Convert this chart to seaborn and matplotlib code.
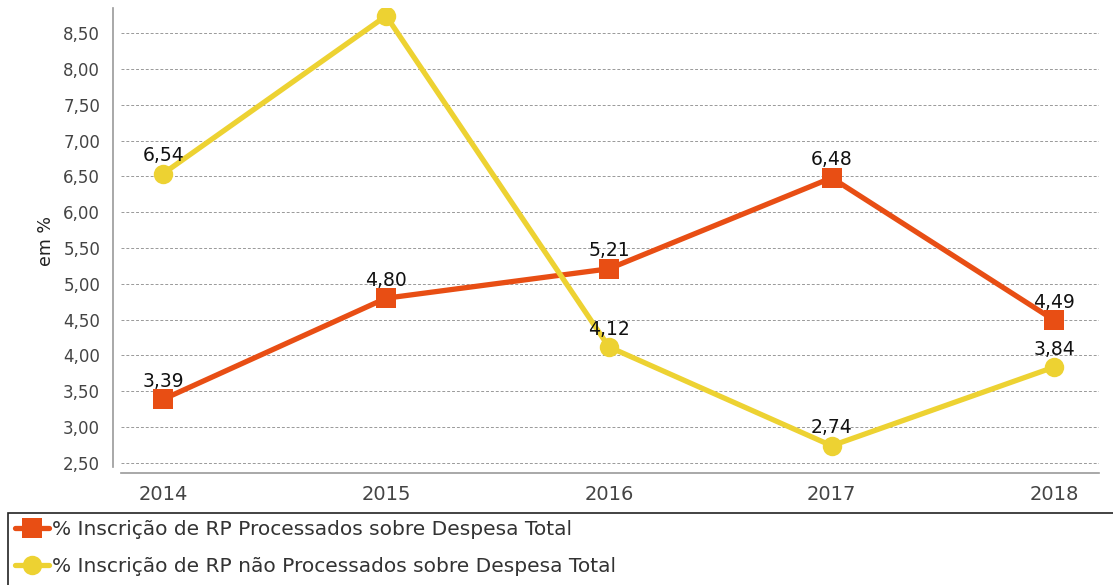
import matplotlib
matplotlib.use("Agg")
import matplotlib.pyplot as plt
import pandas as pd
import seaborn as sns
from matplotlib.patches import Rectangle

# data
years = ["2014", "2015", "2016", "2017", "2018"]
rpProcessados = [3.39, 4.80, 5.21, 6.48, 4.49]
rpNaoProcessados = [6.54, 8.74, 4.12, 2.74, 3.84]
seriesNames = [
    "% Inscrição de RP Processados sobre Despesa Total",
    "% Inscrição de RP não Processados sobre Despesa Total",
]
yTicks = [2.5, 3.0, 3.5, 4.0, 4.5, 5.0, 5.5, 6.0, 6.5, 7.0, 7.5, 8.0, 8.5]

colors = {seriesNames[0]: "#E84E14", seriesNames[1]: "#EDD232"}
markers = {seriesNames[0]: "s", seriesNames[1]: "o"}

df = pd.DataFrame(
    {
        "ano": list(range(len(years))) * 2,
        "valor": rpProcessados + rpNaoProcessados,
        "serie": [seriesNames[0]] * len(years) + [seriesNames[1]] * len(years),
    }
)

sns.set_style("white")
plt.rcParams["font.family"] = ["DejaVu Sans"]

fig = plt.figure(figsize=(11.13, 5.85), dpi=100)
ax = fig.add_axes([121 / 1113, 1 - 473 / 585, (1099 - 121) / 1113, (473 - 8) / 585])

sns.lineplot(
    data=df,
    x="ano",
    y="valor",
    hue="serie",
    style="serie",
    palette=colors,
    markers=markers,
    dashes=False,
    linewidth=3.8,
    markersize=14,
    markeredgewidth=0,
    ax=ax,
    zorder=3,
)

yMax = 8.85

# value labels; the reference hides the one that falls above the plot area
for vals in (rpProcessados, rpNaoProcessados):
    for i, v in enumerate(vals):
        if v > yMax - 0.3:
            continue
        ax.annotate(
            f"{v:.2f}".replace(".", ","),
            (i, v),
            xytext=(0, 6),
            textcoords="offset points",
            ha="center",
            va="bottom",
            fontsize=13.5,
            color="#111111",
            zorder=4,
        )

ax.set_xlim(-0.19, 4.2)
ax.set_ylim(2.36, yMax)
ax.set_xticks(range(len(years)))
ax.set_xticklabels(years)
ax.set_yticks(yTicks)
ax.set_yticklabels([f"{t:.2f}".replace(".", ",") for t in yTicks])
ax.tick_params(axis="both", colors="#444444", length=4, width=0.8)
ax.tick_params(axis="y", labelsize=12, pad=5)
ax.tick_params(axis="x", labelsize=14, pad=5)
ax.set_xlabel("")
ax.set_ylabel("em %", fontsize=12.5, color="#222222", labelpad=6)

ax.grid(axis="y", color="#999999", linestyle=(0, (3, 2)), linewidth=0.7)
ax.grid(axis="x", visible=False)
for side in ("top", "right"):
    ax.spines[side].set_visible(False)
ax.spines["left"].set_position(("outward", 6))
ax.spines["left"].set_bounds(2.45, yMax)
for side in ("left", "bottom"):
    ax.spines[side].set_color("#999999")
    ax.spines[side].set_linewidth(1.2)

handles, labels = ax.get_legend_handles_labels()
ax.get_legend().remove()
leg = fig.legend(
    handles,
    labels,
    loc="upper left",
    bbox_to_anchor=(8 / 1113, -20 / 585, 1.0, 92 / 585),
    mode="expand",
    fontsize=14.5,
    frameon=False,
    handlelength=1.7,
    handletextpad=0.15,
    borderaxespad=0,
    borderpad=0.35,
    labelspacing=0.9,
    labelcolor="#333333",
)

# legend box runs off the bottom and right edges of the image
fig.patches.append(
    Rectangle(
        (8 / 1113, -0.05),
        1.0,
        0.05 + 72 / 585,
        transform=fig.transFigure,
        fill=False,
        edgecolor="#222222",
        linewidth=1.2,
    )
)

fig.savefig("out.png", dpi=100)
